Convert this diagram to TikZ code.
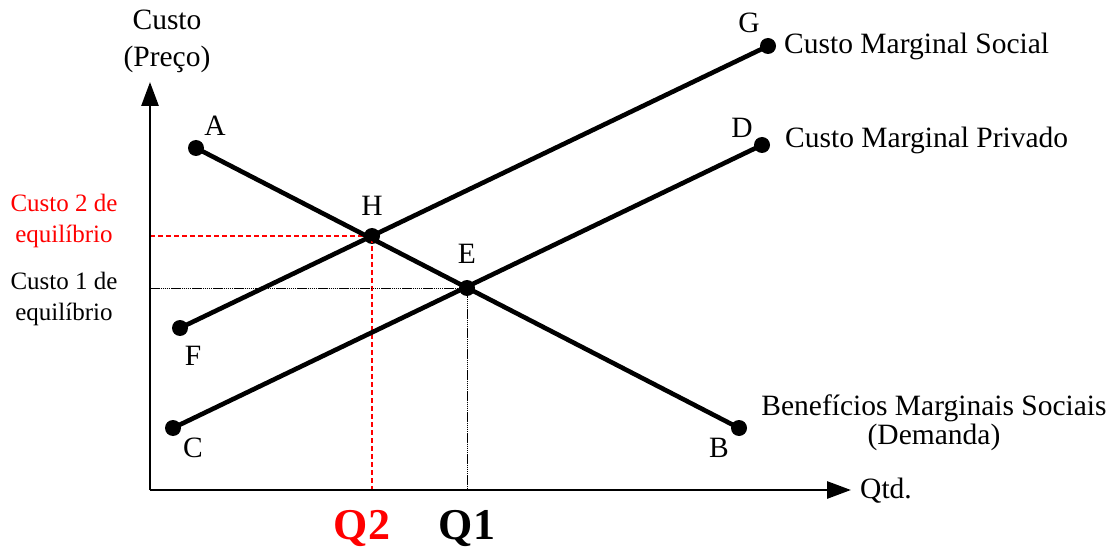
\documentclass[tikz,border=0pt]{standalone}
\usepackage{fontspec}
\setmainfont{Liberation Serif}
\usetikzlibrary{arrows.meta}
\begin{document}
\begin{tikzpicture}[x=1pt,y=-1pt,
  dot/.style={circle,fill=black,inner sep=0pt,minimum size=16pt},
  curve/.style={line width=4.6pt},
  axis/.style={line width=2.8pt,-{Triangle[length=24pt,width=17pt]}},
  lbl/.style={inner sep=0pt,font=\fontsize{29.5}{32}\selectfont},
  side/.style={inner sep=0pt,align=center,font=\fontsize{25}{31}\selectfont},
  qlbl/.style={inner sep=0pt,font=\fontsize{44}{46}\selectfont\bfseries},
  reddash/.style={red,line width=1.5pt,dash pattern=on 5pt off 3pt},
  blackdot/.style={black,line width=0.9pt,dash pattern=on 1.5pt off 0.6pt}]
\useasboundingbox (0,0) rectangle (1109,548);
% axes
\coordinate (O) at (150,490);
\coordinate (Ytop) at (150,82);
\coordinate (Xend) at (851,490);
% guide lines
\coordinate (Y2) at (150,236);
\coordinate (X2) at (372,490);
\coordinate (Y1) at (150,288);
\coordinate (X1) at (467,490);
\node[dot] (H) at (372,236) {};
\node[dot] (E) at (467,288) {};
\draw[reddash] (Y2) -- (H.center) -- (X2);
\draw[blackdot] (Y1) -- (E.center) -- (X1);
\draw[axis] (O) -- (Ytop);
\draw[axis] (O) -- (Xend);
% curve end points
\node[dot] (A) at (196,148) {};
\node[dot] (B) at (739,428) {};
\node[dot] (G) at (768,46) {};
\node[dot] (F) at (180,328) {};
\node[dot] (D) at (762,145) {};
\node[dot] (C) at (173,428) {};
\draw[curve] (A.center) -- (B.center);
\draw[curve] (F.center) -- (G.center);
\draw[curve] (C.center) -- (D.center);
% point letters
\node[lbl] (lA) at (215,126) {A};
\node[lbl] (lH) at (372,206) {H};
\node[lbl] (lE) at (467,254) {E};
\node[lbl] (lG) at (749,23) {G};
\node[lbl] (lD) at (742,128) {D};
\node[lbl] (lF) at (193,356) {F};
\node[lbl] (lC) at (193,448) {C};
\node[lbl] (lB) at (719,448) {B};
% curve names
\node[lbl,anchor=west] (ncms) at (784,46) {Custo Marginal Social};
\node[lbl,anchor=west] (ncmp) at (785,140) {Custo Marginal Privado};
\node[lbl,align=center] (nbms) at (934,423) {Benefícios Marginais Sociais\\[-3pt](Demanda)};
\node[lbl,anchor=west] (nqtd) at (860,491) {Qtd.};
\node[lbl,align=center] (ncusto) at (167,41) {Custo\\[5pt](Preço)};
% side labels
\node[side,red] (c2) at (64,221) {Custo 2 de\\equilíbrio};
\node[side] (c1) at (64,299) {Custo 1 de\\equilíbrio};
\node[qlbl,red] (q2) at (362,528) {Q2};
\node[qlbl] (q1) at (467,528) {Q1};
\end{tikzpicture}
\end{document}
